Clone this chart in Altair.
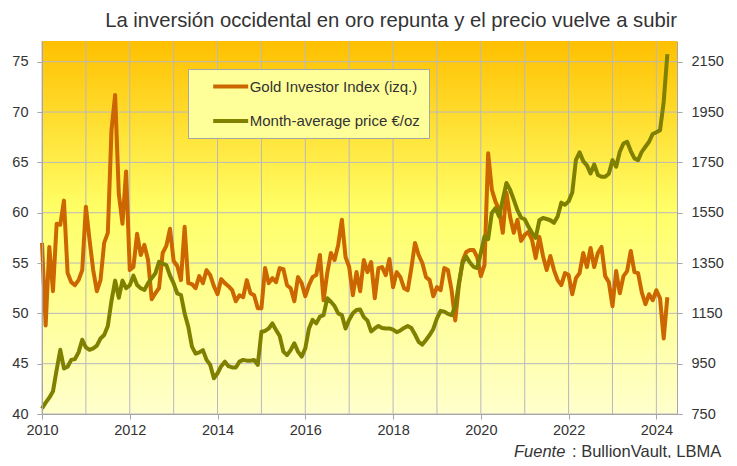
import altair as alt
import pandas as pd

# ---- data (monthly, Jan 2010 - Apr 2024) ----
start_year = 2010
gii = [
    57.0, 48.8, 56.6, 52.2, 58.9, 58.8, 61.2, 54.0, 53.1, 52.8, 53.3, 54.3,  # 2010
    60.6, 57.3, 54.3, 52.2, 53.3, 57.0, 58.0, 68.2, 71.7, 61.9, 58.9, 64.1,  # 2011
    54.3, 54.6, 57.9, 55.8, 56.8, 55.3, 51.4, 52.0, 52.5, 56.0, 56.7, 58.4,  # 2012
    55.2, 54.7, 53.3, 58.6, 53.0, 52.9, 52.5, 53.7, 53.0, 54.3, 53.8, 52.7,  # 2013
    51.9, 53.4, 53.0, 52.7, 52.3, 51.2, 51.8, 51.6, 53.3, 52.0, 51.8, 50.5,  # 2014
    50.5, 54.5, 53.0, 53.5, 53.1, 54.5, 54.4, 52.8, 52.5, 51.2, 53.6, 53.0,  # 2015
    51.7, 52.8, 53.6, 53.8, 55.8, 51.3, 54.0, 56.0, 55.3, 56.8, 59.3, 55.6,  # 2016
    54.6, 51.8, 54.1, 52.2, 55.3, 54.1, 55.1, 51.5, 54.5, 54.6, 53.8, 55.4,  # 2017
    52.6, 54.1, 53.6, 52.5, 52.3, 54.5, 57.0, 55.8, 55.0, 53.6, 53.3, 51.7,  # 2018
    52.6, 52.3, 54.5, 54.3, 52.3, 49.3, 52.8, 55.2, 56.1, 56.3, 56.3, 55.6,  # 2019
    53.7, 54.8, 65.9, 62.3, 61.1, 60.3, 58.0, 62.0, 59.6, 58.0, 59.3, 57.2,  # 2020
    57.8, 58.1, 57.3, 55.5, 57.6, 55.7, 54.3, 55.7, 54.3, 53.3, 52.8, 54.0,  # 2021
    53.8, 51.9, 53.5, 54.0, 56.0, 54.6, 56.5, 54.6, 56.0, 56.6, 53.7, 53.1,  # 2022
    50.7, 54.2, 52.0, 53.7, 54.2, 56.2, 54.1, 54.0, 52.1, 50.9, 51.9, 51.3,  # 2023
    52.3, 51.5, 47.5, 51.6,                                                  # 2024
]
price = [
    772, 795, 815, 840, 925, 1005, 931, 938, 965, 968, 995, 1045,            # 2010
    1015, 1005, 1011, 1022, 1050, 1064, 1100, 1200, 1280, 1212, 1280, 1250,  # 2011
    1262, 1300, 1263, 1250, 1243, 1270, 1290, 1309, 1355, 1348, 1342, 1300,  # 2012
    1269, 1229, 1223, 1150, 1097, 1018, 990, 995, 1004, 965, 945, 892,       # 2013
    912, 940, 958, 940, 935, 935, 958, 965, 962, 962, 965, 945,              # 2014
    1077, 1080, 1090, 1110, 1084, 1060, 998, 984, 1004, 1031, 998, 978,      # 2015
    1011, 1090, 1124, 1110, 1137, 1143, 1210, 1196, 1179, 1150, 1143, 1090,  # 2016
    1125, 1150, 1163, 1165, 1135, 1121, 1078, 1090, 1100, 1092, 1090, 1090,  # 2017
    1085, 1075, 1082, 1092, 1100, 1092, 1066, 1037, 1026, 1044, 1064, 1088,  # 2018
    1130, 1160, 1157, 1148, 1143, 1176, 1270, 1350, 1376, 1352, 1335, 1330,  # 2019
    1390, 1456, 1445, 1549, 1568, 1535, 1602, 1668, 1641, 1602, 1560, 1530,  # 2020
    1524, 1495, 1470, 1450, 1520, 1529, 1525, 1520, 1510, 1535, 1590, 1582,  # 2021
    1595, 1630, 1760, 1790, 1755, 1738, 1706, 1742, 1700, 1693, 1693, 1705,  # 2022
    1759, 1733, 1792, 1825, 1832, 1795, 1766, 1759, 1792, 1812, 1832, 1863,  # 2023
    1870, 1878, 1990, 2180,                                                  # 2024
]
gii_label = "Gold Investor Index (izq.)"
price_label = "Month-average price €/oz"
series_names = [gii_label, price_label]
series_colors = ["#CC6600", "#808000"]
left_ticks = [40, 45, 50, 55, 60, 65, 70, 75]
right_ticks = [750, 950, 1150, 1350, 1550, 1750, 1950, 2150]
year_ticks = list(range(2010, 2025))
title_text = "La inversión occidental en oro repunta y el precio vuelve a subir"

t = [start_year + i / 12 for i in range(len(gii))]
df_gii = pd.DataFrame({"t": t, "v": gii, "serie": gii_label})
df_price = pd.DataFrame({"t": t[:len(price)], "v": price, "serie": price_label})
df_xgrid = pd.DataFrame({"t": year_ticks})
df_ygrid = pd.DataFrame({"v": left_ticks})

W, H = 635, 373
FONT = "Liberation Sans"
GRAY = "#A6A6A6"
GRID = "#B8B8C0"
TXT = "#333333"
LBL = 14.5
NBSP = "\u00a0"

x_scale = alt.Scale(domain=[2010, 2024.47], nice=False, zero=False)
left_scale = alt.Scale(domain=[40, 77.06], nice=False, zero=False)
right_scale = alt.Scale(domain=[750, 2232.4], nice=False, zero=False)

color = alt.Color(
    "serie:N",
    scale=alt.Scale(domain=series_names, range=series_colors),
    legend=alt.Legend(
        title=None, orient="none", legendX=146, legendY=28,
        fillColor="#FFFF99", strokeColor=GRAY, padding=8.5,
        symbolType="M-2.5,0L2.5,0", symbolSize=196, symbolStrokeWidth=4,
        symbolOffset=25.2, labelOffset=10, rowPadding=17.5, labelLimit=400,
        labelFontSize=15, labelFont=FONT, labelColor=TXT,
        labelExpr="datum.label + '" + NBSP * 3 + "'",
    ),
)

x_axis = alt.Axis(
    values=year_ticks, title=None, grid=False, zindex=1, labelFlush=False,
    labelExpr="datum.value % 2 == 0 ? format(datum.value, 'd') : ''",
    tickColor={"condition": {"test": "datum.value % 2 == 1", "value": "transparent"}, "value": GRAY},
    labelPadding=4, labelFont=FONT, labelFontSize=LBL, labelColor=TXT,
    domainColor=GRAY, tickSize=5,
)
x = alt.X("t:Q", scale=x_scale, axis=x_axis)

gradient = alt.LinearGradient(
    gradient="linear", x1=0, x2=0, y1=0, y2=1,
    stops=[alt.GradientStop(offset=0, color="#FFC000"),
           alt.GradientStop(offset=0.45, color="#FFFF66"),
           alt.GradientStop(offset=1, color="#FFFFCC")],
)
one = pd.DataFrame({"a": [1]})
bg = alt.Chart(one).mark_rect(fill=gradient, strokeWidth=0).encode(
    x=alt.value(0), x2=alt.value(W), y=alt.value(0), y2=alt.value(H))

xgrid = alt.Chart(df_xgrid).mark_rule(color=GRID, strokeWidth=1).encode(x=x)
ygrid = alt.Chart(df_ygrid).mark_rule(color=GRID, strokeWidth=1).encode(
    y=alt.Y("v:Q", scale=left_scale, axis=None))

line_gii = alt.Chart(df_gii).mark_line(strokeWidth=4, strokeJoin="round").encode(
    x=x,
    y=alt.Y("v:Q", scale=left_scale,
            axis=alt.Axis(orient="left", values=left_ticks, title=None, grid=False, format="d",
                          labelPadding=9, zindex=1, labelFont=FONT, labelFontSize=LBL,
                          labelColor=TXT, domainColor=GRAY, tickColor=GRAY, tickSize=5)),
    color=color,
)
line_price = alt.Chart(df_price).mark_line(strokeWidth=4, strokeJoin="round").encode(
    x=x,
    y=alt.Y("v:Q", scale=right_scale,
            axis=alt.Axis(orient="right", values=right_ticks, title=None, grid=False, format="d",
                          labelPadding=9, zindex=1, labelFont=FONT, labelFontSize=LBL,
                          labelColor=TXT, domainColor=GRAY, tickColor=GRAY, tickSize=5)),
    color=color,
)

src1 = alt.Chart(one).mark_text(text="Fuente", align="left", baseline="alphabetic", font=FONT,
                                fontSize=16.5, fontStyle="italic", color=TXT).encode(
    x=alt.value(472), y=alt.value(415.5))
src2 = alt.Chart(one).mark_text(text=": BullionVault, LBMA", align="left", baseline="alphabetic", font=FONT,
                                fontSize=16.5, color=TXT).encode(
    x=alt.value(530), y=alt.value(415.5))

chart = alt.layer(bg, xgrid, ygrid, line_gii, line_price, src1, src2).resolve_scale(
    y="independent"
).properties(
    width=W, height=H,
    background="white",
    autosize=alt.AutoSizeParams(type="none"),
    padding={"left": 34, "top": 33, "right": 52, "bottom": 44},
    title=alt.TitleParams(title_text, anchor="end", frame="group", font=FONT, fontSize=20.25,
                          fontWeight="normal", color=TXT, offset=9),
).configure_view(
    strokeWidth=0,
)

chart.save("out.html", embed_options={"renderer": "svg", "actions": False})
